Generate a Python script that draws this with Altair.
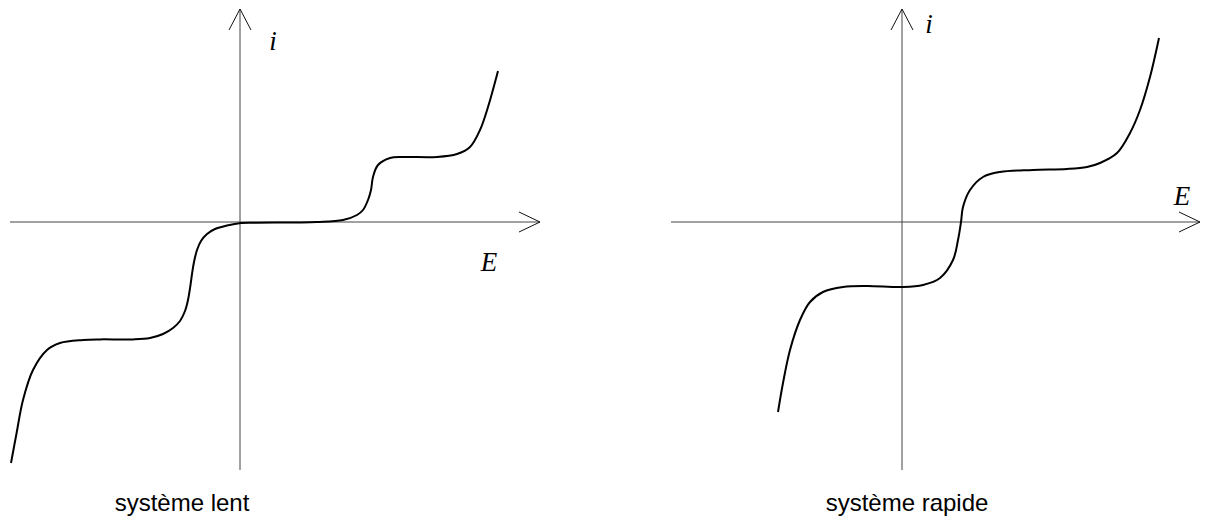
import altair as alt
import pandas as pd

# --- current/potential curves (E in arbitrary units, i in arbitrary units) ---
lent_E = [-11.45, -11.17, -10.85, -10.35, -9.65, -9.0, -7.85, -7.0, -5.35, -4.5,
          -3.85, -3.35, -3.0, -2.75, -2.6, -2.475, -2.4, -2.3, -2.15, -1.95,
          -1.65, -1.25, -0.65, 0.05, 0.85,
          3.85, 5.15, 5.85, 6.15, 6.4, 6.55, 6.65, 6.9, 7.5, 8.15,
          9.85, 10.85, 11.5, 12.0, 12.4, 12.9]
lent_i = [-12.05, -10.55, -8.9, -7.4, -6.4, -6.05, -5.9, -5.87, -5.87, -5.8,
          -5.6, -5.3, -4.95, -4.45, -3.9, -3.15, -2.6, -2.0, -1.4, -0.95,
          -0.6, -0.35, -0.175, -0.05, -0.035,
          0.0, 0.1, 0.35, 0.6, 1.1, 1.6, 2.25, 2.85, 3.2, 3.25,
          3.25, 3.4, 3.75, 4.6, 5.75, 7.55]

rapide_E = [-6.2, -5.95, -5.6, -5.1, -4.6, -3.95, -2.95, -1.75, 0.0, 1.05,
            1.9, 2.55, 2.8, 2.95, 3.05, 3.4, 4.05, 4.9, 6.55, 8.25,
            9.25, 9.9, 10.75, 11.4, 11.9, 12.4, 12.85]
rapide_i = [-9.5, -8.05, -6.4, -4.9, -4.0, -3.5, -3.25, -3.2, -3.25, -3.15,
            -2.8, -1.9, -0.9, 0.0, 0.75, 1.6, 2.25, 2.5, 2.6, 2.65,
            2.75, 2.95, 3.45, 4.45, 5.6, 7.25, 9.2]

# axis extents for each panel: (E_min, E_max, i_min, i_max)
lent_axes = (-11.5, 15.0, -12.4, 10.65)
rapide_axes = (-11.55, 14.9, -12.4, 10.65)

# label positions
lent_labels = {"i": (1.65, 9.0), "E": (12.45, -2.05)}
rapide_labels = {"i": (1.35, 9.85), "E": (14.0, 1.25)}
captions = ["système lent", "système rapide"]
caption_E = [-2.9, 0.25]
caption_i = -14.45

lent_xdomain = [-12.0, 18.0]
rapide_xdomain = [-14.75, 15.25]
ydomain = [-15.25, 11.1]

PANEL_W, PANEL_H = 600, 527


def panel(E, I, axes, labels, caption, cap_E, xdomain):
    xs = alt.Scale(domain=xdomain, nice=False, zero=False)
    ys = alt.Scale(domain=ydomain, nice=False, zero=False)
    e0, e1, i0, i1 = axes

    # drawn axes (E horizontal, i vertical)
    axis_df = pd.DataFrame({
        "x": [e0, 0.0], "x2": [e1, 0.0],
        "y": [0.0, i0], "y2": [0.0, i1],
    })
    axis_lines = alt.Chart(axis_df).mark_rule(color="#444", strokeWidth=1).encode(
        x=alt.X("x:Q", scale=xs, axis=None), x2="x2:Q",
        y=alt.Y("y:Q", scale=ys, axis=None), y2="y2:Q",
    )

    # open arrowheads at the end of both axes
    head_df = pd.DataFrame({
        "x": [e1 - 1.05, e1 - 1.05, -0.55, 0.55],
        "x2": [e1, e1, 0.0, 0.0],
        "y": [0.5, -0.5, i1 - 1.05, i1 - 1.05],
        "y2": [0.0, 0.0, i1, i1],
    })
    heads = alt.Chart(head_df).mark_rule(color="#111", strokeWidth=1).encode(
        x=alt.X("x:Q", scale=xs, axis=None), x2="x2:Q",
        y=alt.Y("y:Q", scale=ys, axis=None), y2="y2:Q",
    )

    curve_df = pd.DataFrame({"E": E, "i": I, "k": range(len(E))})
    curve = alt.Chart(curve_df).mark_line(
        color="black", strokeWidth=2, interpolate="catmull-rom"
    ).encode(
        x=alt.X("E:Q", scale=xs, axis=None),
        y=alt.Y("i:Q", scale=ys, axis=None),
        order="k:Q",
    )

    lab_df = pd.DataFrame({
        "t": list(labels.keys()),
        "x": [v[0] for v in labels.values()],
        "y": [v[1] for v in labels.values()],
    })
    math_labels = alt.Chart(lab_df).mark_text(
        font="Liberation Serif", fontStyle="italic", fontSize=27,
        color="black", align="center", baseline="middle",
    ).encode(
        x=alt.X("x:Q", scale=xs, axis=None),
        y=alt.Y("y:Q", scale=ys, axis=None),
        text="t:N",
    )

    cap_df = pd.DataFrame({"t": [caption], "x": [cap_E], "y": [caption_i]})
    cap = alt.Chart(cap_df).mark_text(
        font="Liberation Sans", fontSize=24, color="black",
        align="center", baseline="alphabetic",
    ).encode(
        x=alt.X("x:Q", scale=xs, axis=None),
        y=alt.Y("y:Q", scale=ys, axis=None),
        text="t:N",
    )

    return alt.layer(axis_lines, heads, curve, math_labels, cap).properties(
        width=PANEL_W, height=PANEL_H
    )


left = panel(lent_E, lent_i, lent_axes, lent_labels, captions[0], caption_E[0], lent_xdomain)
right = panel(rapide_E, rapide_i, rapide_axes, rapide_labels, captions[1], caption_E[1], rapide_xdomain)

chart = alt.hconcat(left, right, spacing=7).resolve_scale(
    x="independent", y="independent"
).properties(padding=0, background="white").configure_view(stroke=None)

chart.save("out.html", embed_options={"renderer": "svg", "actions": False})
